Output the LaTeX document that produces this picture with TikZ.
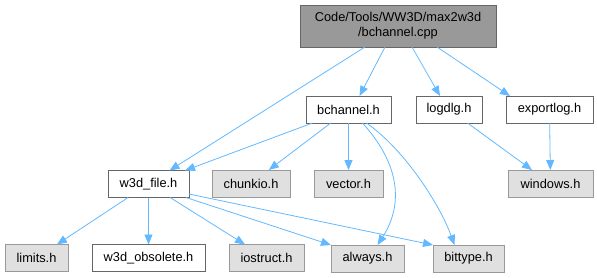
\documentclass[tikz,border=0pt]{standalone}
\usepackage{fontspec}
\setmainfont{Liberation Sans}
\usepackage{tikz}
\usetikzlibrary{arrows.meta}
\definecolor{edgeblue}{HTML}{63B8FF}
\definecolor{rootgray}{HTML}{999999}
\definecolor{boxline}{HTML}{666666}
\definecolor{extfill}{HTML}{E0E0E0}
\definecolor{extline}{HTML}{999999}

\begin{document}
\begin{tikzpicture}[
x=1pt, y=-1pt,
font=\fontsize{12.8}{15}\selectfont,
    F/.style = {rectangle, draw=boxline, fill=white, line width=0.9pt,% headers of the project
                minimum height=27pt, inner xsep=3pt, outer sep=0pt},
    E/.style = {rectangle, draw=extline, fill=extfill, line width=0.9pt,% headers not documented
                minimum height=27pt, inner xsep=3pt, outer sep=0pt},
    R/.style = {rectangle, draw=boxline, fill=rootgray, line width=0.9pt,
                align=center, inner sep=3pt, outer sep=0pt},
    dep/.style = {draw=edgeblue, line width=0.8pt,
                  -{Triangle[length=10pt,width=8pt]}},
                        ]
\useasboundingbox (0,0) rectangle (597,277);
% file nodes
\node[R, minimum width=196pt, minimum height=42pt] (cpp) at (398,26)
    {Code/Tools/WW3D/max2w3d\\/bchannel.cpp};
\node[F, minimum width=85pt] (bch) at (348.5,109.5) {bchannel.h};
\node[F, minimum width=66pt] (log) at (449,109.5) {logdlg.h};
\node[F, minimum width=87pt] (exp) at (549.5,109.5) {exportlog.h};
\node[F, minimum width=81pt] (w3d) at (148.5,184) {w3d\_file.h};
\node[E, minimum width=78pt] (chk) at (251,183.5) {chunkio.h};
\node[E, minimum width=69pt] (vec) at (348.5,183.5) {vector.h};
\node[E, minimum width=85pt] (win) at (550.5,183.5) {windows.h};
\node[E, minimum width=63pt] (lim) at (36.5,258) {limits.h};
\node[F, minimum width=113pt] (obs) at (148.5,258) {w3d\_obsolete.h};
\node[E, minimum width=75pt] (ios) at (266.5,258) {iostruct.h};
\node[E, minimum width=73pt] (alw) at (367.5,258.5) {always.h};
\node[E, minimum width=71pt] (bit) at (468.5,258.5) {bittype.h};
% dependencies
\foreach \a/\b in {bch/chk, bch/vec, log/win, exp/win,
                   w3d/lim, w3d/obs, w3d/ios}
    \draw[dep] (\a) -- (\b);
\draw[dep] ([xshift=-33pt]cpp.south) -- ([xshift=21pt]w3d.north);
\draw[dep] ([xshift=-13pt]cpp.south) -- ([xshift=11pt]bch.north);
\draw[dep] ([xshift=14pt]cpp.south) -- ([xshift=-9pt]log.north);
\draw[dep] ([xshift=39pt]cpp.south) -- ([xshift=4pt]exp.north west);
\draw[dep] ([xshift=-36pt]bch.south) -- ([xshift=-4pt]w3d.north east);
\draw[dep] ([xshift=-3pt]w3d.south east) -- (alw.north west);
\draw[dep] ([yshift=-10pt]w3d.east) -- (bit.north west);
\draw[dep] ([xshift=14pt]bch.south) .. controls (405,170) and (400,210) .. ([xshift=10pt]alw.north);
\draw[dep] ([xshift=18pt]bch.south) .. controls (405,150) and (440,205) .. ([xshift=-14pt]bit.north);
\end{tikzpicture}
\end{document}
